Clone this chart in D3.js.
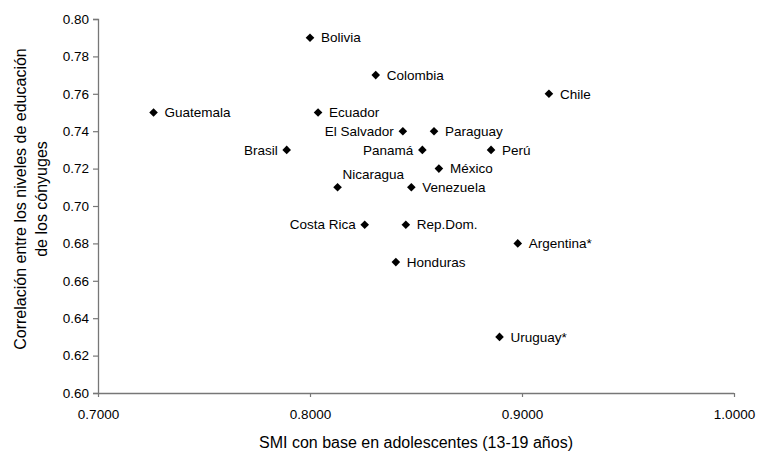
<!DOCTYPE html>
<html><head><meta charset="utf-8">
<script src="https://cdn.jsdelivr.net/npm/d3@7"></script>
<style>
body{margin:0;background:#fff;}
text{font-family:"Liberation Sans",Arial,sans-serif;}
</style></head>
<body><svg id="c" width="758" height="452"></svg>
<script>
const countries = ["Bolivia","Colombia","Chile","Guatemala","Ecuador","El Salvador","Paraguay","Brasil","Panamá","Perú","México","Nicaragua","Venezuela","Costa Rica","Rep.Dom.","Argentina*","Honduras","Uruguay*"];
const smi = [0.8000,0.8310,0.9127,0.7262,0.8038,0.8438,0.8585,0.7890,0.8530,0.8854,0.8608,0.8130,0.8478,0.8258,0.8452,0.8980,0.8405,0.8894];
const corr = [0.79,0.77,0.76,0.75,0.75,0.74,0.74,0.73,0.73,0.73,0.72,0.71,0.71,0.69,0.69,0.68,0.67,0.63];
const xTicks = [0.7,0.8,0.9,1.0];
const yTicks = [0.60,0.62,0.64,0.66,0.68,0.70,0.72,0.74,0.76,0.78,0.80];
const xTitle = "SMI con base en adolescentes (13-19 años)";
const yTitle = ["Correlación entre los niveles de educación","de los cónyuges"];

const W=758,H=452,m={l:98,r:24,t:19,b:59};
const svg=d3.select("#c");
const x=d3.scaleLinear().domain([0.7,1.0]).range([m.l,W-m.r]);
const y=d3.scaleLinear().domain([0.60,0.80]).range([H-m.b,m.t]);
const axisColor="#777";
const fs="13.5px";

const gx=svg.append("g").attr("transform",`translate(0,${H-m.b})`)
 .call(d3.axisBottom(x).tickValues(xTicks).tickFormat(d3.format(".4f")).tickSize(4).tickPadding(12));
const gy=svg.append("g").attr("transform",`translate(${m.l},0)`)
 .call(d3.axisLeft(y).tickValues(yTicks).tickFormat(d3.format(".2f")).tickSize(5).tickPadding(4));
[gx,gy].forEach(g=>{
  g.select(".domain").attr("stroke",axisColor).attr("stroke-width",1.3);
  g.selectAll(".tick line").attr("stroke",axisColor).attr("stroke-width",1.2);
  g.selectAll(".tick text").attr("fill","#000").style("font-size",fs).style("font-family","'Liberation Sans',Arial,sans-serif");
});
gx.select(".domain").attr("d",`M${m.l},0.5H${W-m.r}`);

svg.append("text").attr("x",(m.l+W-m.r)/2).attr("y",448).attr("text-anchor","middle")
 .style("font-size","16px").text(xTitle);
const yt=svg.append("text").attr("transform",`translate(25.5,199) rotate(-90)`).attr("text-anchor","middle").style("font-size","16px");
yt.selectAll("tspan").data(yTitle).join("tspan").attr("x",0).attr("dy",(d,i)=>i?"21.5px":"0").text(d=>d);

const left=new Set(["El Salvador","Brasil","Panamá","Costa Rica"]);
const data=countries.map((c,i)=>({c,x:smi[i],y:corr[i]}));
const g=svg.append("g");
g.selectAll("path.pt").data(data).join("path").attr("class","pt")
 .attr("transform",d=>`translate(${x(d.x)},${y(d.y)})`)
 .attr("d","M0,-4.3L4.3,0L0,4.3L-4.3,0Z").attr("fill","#000");
g.selectAll("text.lb").data(data).join("text").attr("class","lb")
 .attr("x",d=>x(d.x)+(left.has(d.c)?-9:(d.c==="Nicaragua"?5:11)))
 .attr("y",d=>y(d.y)+(d.c==="Nicaragua"?-13:0))
 .attr("dy","0.35em")
 .attr("text-anchor",d=>left.has(d.c)?"end":"start")
 .style("font-size",fs).text(d=>d.c);
</script></body></html>
